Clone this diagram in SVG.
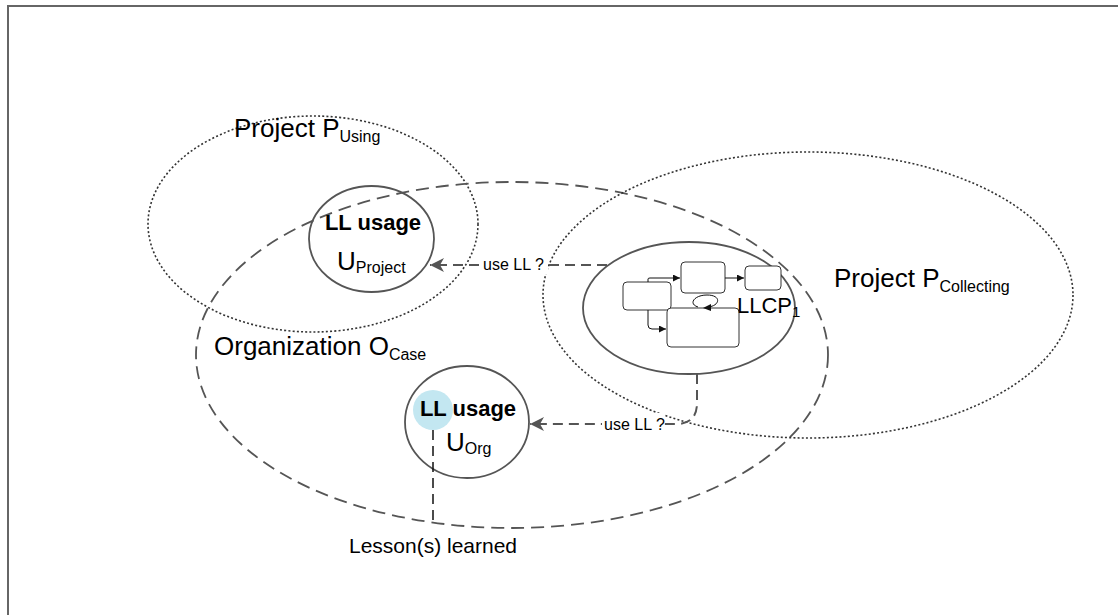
<svg xmlns="http://www.w3.org/2000/svg" width="1118" height="615" viewBox="0 0 1118 615">
<style>
  text { font-family: "Liberation Sans", Arial, sans-serif; fill: #000; }
  .big { font-size: 26px; }
  .sub { font-size: 16px; }
  .bold { font-size: 22px; font-weight: bold; }
  .lbl { font-size: 16px; }
  .dotted { fill: none; stroke: #333; stroke-width: 1.6; stroke-dasharray: 2 2.2; }
  .dashed { fill: none; stroke: #555; stroke-width: 1.8; stroke-dasharray: 13 7; }
  .solid { fill: none; stroke: #555; stroke-width: 1.8; }
  .conn { fill: none; stroke: #555; stroke-width: 2; stroke-dasharray: 10 6; }
  .box { fill: #fff; stroke: #333; stroke-width: 1; }
  .thin { fill: none; stroke: #111; stroke-width: 1; }
</style>
<defs>
  <marker id="bigArrow" viewBox="0 0 14 14" refX="14" refY="7" markerWidth="14" markerHeight="14" markerUnits="userSpaceOnUse" orient="auto">
    <path d="M0,0 L14,7 L0,14 L4,7 Z" fill="#555"/>
  </marker>
  <marker id="smallArrow" viewBox="0 0 8 8" refX="8" refY="4" markerWidth="7" markerHeight="7" markerUnits="userSpaceOnUse" orient="auto">
    <path d="M0,0 L8,4 L0,8 Z" fill="#111"/>
  </marker>
</defs>

<rect x="8" y="6" width="1120" height="620" fill="#fff" stroke="#666" stroke-width="2"/>

<g id="project-using">
  <ellipse class="dotted" cx="313" cy="224" rx="165" ry="108"/>
  <text class="big" x="234" y="137">Project P<tspan class="sub" dy="5">Using</tspan></text>
</g>

<g id="organization">
  <ellipse class="dashed" cx="512" cy="355" rx="316" ry="173"/>
  <text class="big" x="214" y="355">Organization O<tspan class="sub" dy="5">Case</tspan></text>
</g>

<g id="project-collecting">
  <ellipse class="dotted" cx="808" cy="295" rx="265" ry="143"/>
  <text class="big" x="834" y="287">Project P<tspan class="sub" dy="5">Collecting</tspan></text>
</g>

<g id="usage-project">
  <ellipse class="solid" cx="371.5" cy="239" rx="62.5" ry="53"/>
  <text class="bold" x="373" y="230" text-anchor="middle">LL usage</text>
  <text class="big" x="337" y="270">U<tspan class="sub" dy="3">Project</tspan></text>
</g>

<g id="llcp">
  <ellipse class="solid" cx="689" cy="308" rx="106" ry="66" fill="#fff"/>
  <rect class="box" x="623" y="282" width="48" height="28" rx="4"/>
  <rect class="box" x="681" y="262" width="44" height="31" rx="4"/>
  <rect class="box" x="745" y="266" width="36" height="24" rx="4"/>
  <rect class="box" x="667" y="308" width="72" height="39" rx="4"/>
  <path class="thin" d="M648,282 L648,279 Q648,278 650,278 L680,278" marker-end="url(#smallArrow)"/>
  <path class="thin" d="M725,278 L744,278" marker-end="url(#smallArrow)"/>
  <path class="thin" d="M648,310 L648,325 Q648,329 652,329 L666,329" marker-end="url(#smallArrow)"/>
  <path class="thin" d="M708,307 C720,306 722,295 707,295 C694,295 688,304 698,307" fill="none"/>
  <path d="M703,308 L711,304 L711,311 Z" fill="#111"/>
  <text x="737" y="313" style="font-size:22px">LLCP<tspan style="font-size:15px" dy="4">1</tspan></text>
</g>

<g id="usage-org">
  <ellipse class="solid" cx="467" cy="422" rx="62" ry="56" fill="#fff"/>
  <circle cx="433" cy="410" r="20" fill="#c3e7f1"/>
  <text class="bold" x="468" y="416" text-anchor="middle">LL usage</text>
  <text class="big" x="446" y="451">U<tspan class="sub" dy="3">Org</tspan></text>
</g>

<g id="lesson">
  <text x="433" y="553" text-anchor="middle" style="font-size:21px">Lesson(s) learned</text>
</g>

<g id="connectors">
  <path class="conn" d="M607,265 L430,265" marker-end="url(#bigArrow)"/>
  <rect x="480" y="254" width="68" height="20" fill="#fff"/>
  <text class="lbl" x="483" y="270">use LL ?</text>

  <path class="conn" d="M697,374 L697,403 Q697,424 676,424 L530,424" marker-end="url(#bigArrow)"/>
  <rect x="602" y="413" width="62" height="20" fill="#fff"/>
  <text class="lbl" x="604" y="430">use LL ?</text>

  <path d="M433,430 L433,523" fill="none" stroke="#111" stroke-width="1.5" stroke-dasharray="10 6"/>
</g>
</svg>
